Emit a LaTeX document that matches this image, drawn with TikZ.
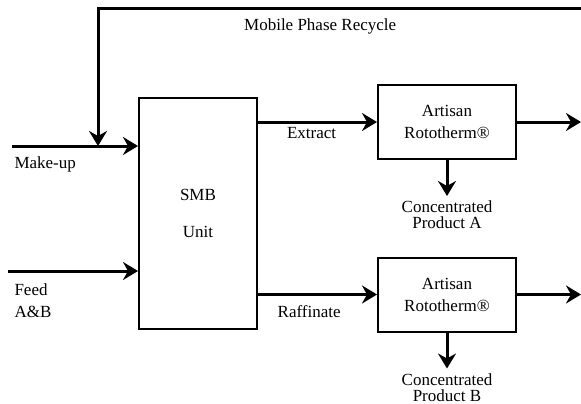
\documentclass[tikz,border=0pt]{standalone}
\usepackage{fontspec}
\setmainfont{Liberation Serif}
\usetikzlibrary{arrows.meta,positioning,calc}

\tikzset{
  every unit/.style={draw, line width=2pt, align=center, inner sep=0pt},
  flow/.style={->, line width=3pt},
  stream label/.style={inner sep=0pt, align=left},
}

\begin{document}
\begin{tikzpicture}[x=1pt, y=-1pt, >={Stealth[length=15pt,width=18pt,inset=5pt]},
  font=\fontsize{17}{22}\selectfont]
	\useasboundingbox (0,0) rectangle (581,404);
	
	\node [every unit, minimum width=118pt, minimum height=231pt] (smb) at (198,213.5) {SMB\\[15pt]Unit};
	
	\foreach \y [count=\i] in {122,294.5}
	\node [every unit, minimum width=138pt, minimum height=74pt] (art-\i) at (447,\y) {Artisan\\Rototherm®};
	
	\foreach \l [count=\i] in {A,B}
	\node [below=36pt of art-\i, align=center, inner sep=5pt, font=\fontsize{17}{16}\selectfont] (conc-\i) {Concentrated\\Product \l};
	
	\coordinate (recycle) at (581,9);
	\coordinate (makeup) at (12,146);
	\coordinate (join) at (98,146);
	\coordinate (feed) at (8,271);
	
	\draw [flow] (recycle) -| (join)
	node [stream label, pos=0.27, below=8pt] {Mobile Phase Recycle};
	
	\draw [flow] (makeup) -- (makeup -| smb.west)
	node [stream label, pos=0, below right=9pt and 1pt] {Make-up};
	
	\draw [flow] (feed) -- (feed -| smb.west)
	node [stream label, pos=0, below right=11pt and 5pt] {Feed\\A\&B};
	
	\draw [flow] (smb.east |- art-1) -- (art-1)
	node [stream label, pos=0.45, below=4pt] {Extract};
	
	\draw [flow] (smb.east |- art-2) -- (art-2)
	node [stream label, pos=0.43, below=10pt] {Raffinate};
	
	\foreach \i in {1,2}
	\draw [flow] (art-\i) -- (art-\i -| recycle);
	
	\foreach \i in {1,2}
	\draw [flow] (art-\i) -- (conc-\i);
	
\end{tikzpicture}
\end{document}
